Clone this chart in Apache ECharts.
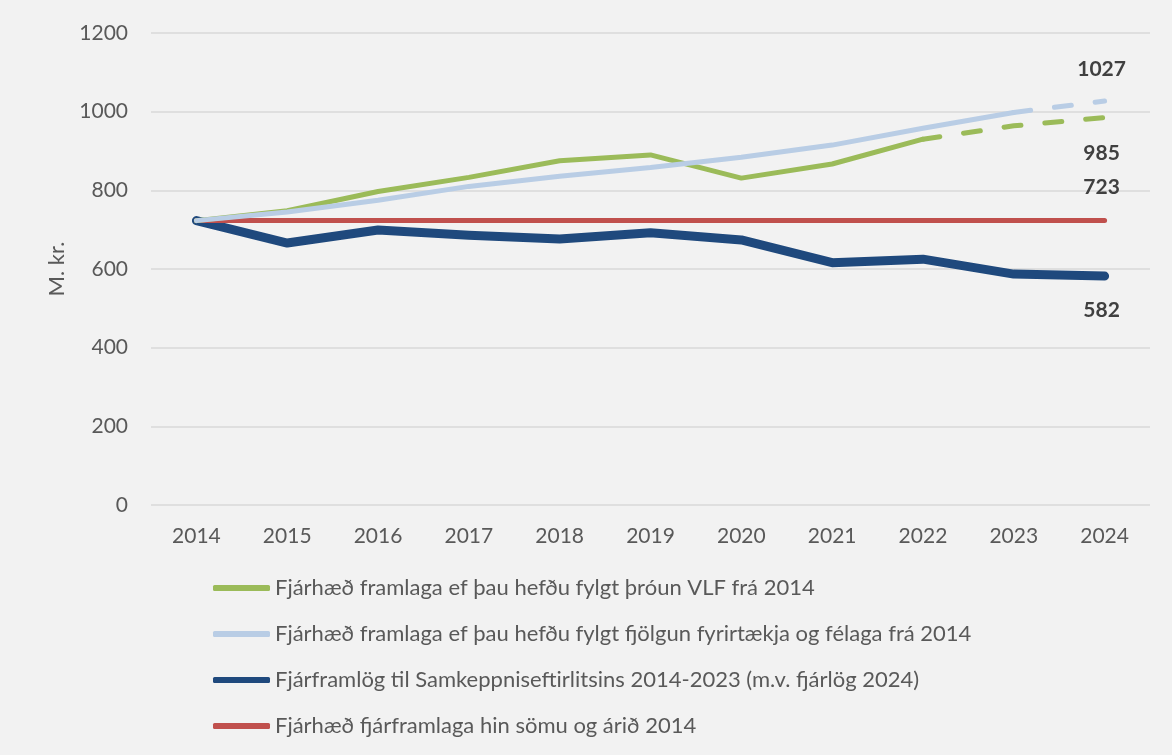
<!DOCTYPE html>
<html>
<head>
<meta charset="utf-8">
<script src="https://cdn.jsdelivr.net/npm/echarts@6/dist/echarts.min.js"></script>
<style>
  html, body { margin: 0; padding: 0; background: #f2f2f2; }
  #chart { width: 1172px; height: 755px; }
</style>
</head>
<body>
<div id="chart"></div>
<script>
// gögn
var years = ['2014', '2015', '2016', '2017', '2018', '2019', '2020', '2021', '2022', '2023', '2024'];
var vlf = [723, 748, 797, 833, 875, 890, 831, 867, 930, 964, 985];
var fjolgun = [723, 745, 775, 810, 836, 858, 884, 915, 958, 998, 1027];
var framlog = [723, 666, 699, 686, 676, 692, 674, 616, 625, 587, 582];
var sama = [723, 723, 723, 723, 723, 723, 723, 723, 723, 723, 723];
var vlfSolidEnd = 8;      // 2022, heil lína að hingað
var fjolgunSolidEnd = 9;  // 2023
var names = [
  'Fjárhæð framlaga ef þau hefðu fylgt þróun VLF frá 2014',
  'Fjárhæð framlaga ef þau hefðu fylgt fjölgun fyrirtækja og félaga frá 2014',
  'Fjárframlög til Samkeppniseftirlitsins 2014-2023 (m.v. fjárlög 2024)',
  'Fjárhæð fjárframlaga hin sömu og árið 2014'
];
var colors = ['#9bbb59', '#b9cde5', '#1f497d', '#c0504d'];

var font = 'Lato, "Open Sans", sans-serif';

function solidPart(arr, end) {
  return arr.map(function (v, i) { return i <= end ? v : null; });
}
function dashPart(arr, start) {
  return arr.map(function (v, i) { return i >= start ? v : null; });
}
// merki við enda línu
function endLbl(dy) {
  return {
    show: true,
    distance: 0,
    offset: [-3, dy],
    align: 'center',
    verticalAlign: 'middle',
    fontFamily: font,
    fontSize: 21,
    fontWeight: 'bold',
    color: '#404040',
    formatter: function (p) { return String(p.value); }
  };
}

var myChart = echarts.init(document.getElementById('chart'));
var option = {
  backgroundColor: '#f2f2f2',
  animation: false,
  grid: { left: 151, right: 22, top: 33, bottom: 250 },
  legend: {
    orient: 'vertical',
    left: 208,
    top: 572,
    itemGap: 24,
    itemWidth: 57,
    itemHeight: 6,
    icon: 'roundRect',
    data: names,
    textStyle: { fontFamily: font, fontSize: 22, color: '#595959' }
  },
  xAxis: {
    type: 'category',
    data: years,
    boundaryGap: true,
    axisLine: { show: false },
    axisTick: { show: false },
    axisLabel: { fontFamily: font, fontSize: 21, color: '#595959', margin: 21 }
  },
  yAxis: {
    type: 'value',
    min: 0,
    max: 1200,
    interval: 200,
    name: 'M. kr.',
    nameLocation: 'middle',
    nameGap: 81,
    nameTextStyle: { fontFamily: font, fontSize: 22, color: '#595959' },
    axisLine: { show: false },
    axisTick: { show: false },
    axisLabel: {
      fontFamily: font, fontSize: 21, color: '#595959', margin: 23,
      formatter: function (v) { return String(v); }
    },
    splitLine: { lineStyle: { color: '#d9d9d9', width: 1.5 } }
  },
  series: [
    {
      name: names[3], type: 'line', data: sama, symbol: 'none', z: 3,
      itemStyle: { color: colors[3] },
      lineStyle: { color: colors[3], width: 5, cap: 'round' },
      endLabel: endLbl(-33)
    },
    {
      name: names[2], type: 'line', data: framlog, symbol: 'none', z: 2,
      itemStyle: { color: colors[2] },
      lineStyle: { color: colors[2], width: 9, cap: 'round', join: 'round' },
      endLabel: endLbl(34)
    },
    {
      name: names[0], type: 'line', data: solidPart(vlf, vlfSolidEnd), symbol: 'none', z: 4,
      itemStyle: { color: colors[0] },
      lineStyle: { color: colors[0], width: 5, cap: 'round' }
    },
    {
      name: 'vlf-spa', type: 'line', data: dashPart(vlf, vlfSolidEnd), symbol: 'none', z: 4,
      itemStyle: { color: colors[0] },
      lineStyle: { color: colors[0], width: 5, type: [17, 24], cap: 'round' },
      endLabel: endLbl(36)
    },
    {
      name: names[1], type: 'line', data: solidPart(fjolgun, fjolgunSolidEnd), symbol: 'none', z: 5,
      itemStyle: { color: colors[1] },
      lineStyle: { color: colors[1], width: 5, cap: 'round' }
    },
    {
      name: 'fjolgun-spa', type: 'line', data: dashPart(fjolgun, fjolgunSolidEnd), symbol: 'none', z: 5,
      itemStyle: { color: colors[1] },
      lineStyle: { color: colors[1], width: 5, type: [17, 24], cap: 'round' },
      endLabel: endLbl(-32)
    }
  ]
};
myChart.setOption(option);
window.addEventListener('resize', function () { myChart.resize(); });
</script>
</body>
</html>
